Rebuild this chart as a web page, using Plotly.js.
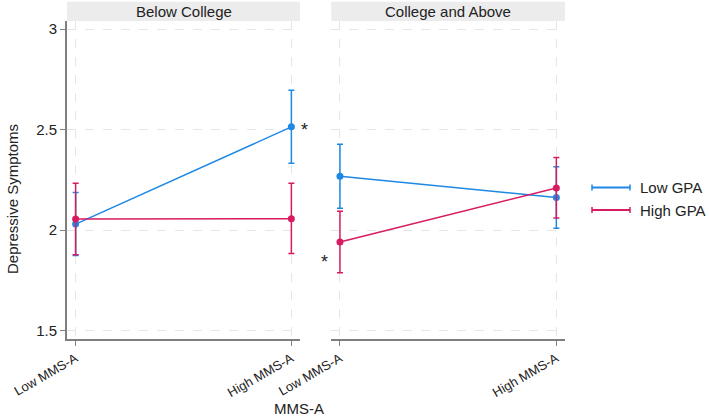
<!DOCTYPE html>
<html><head><meta charset="utf-8">
<script src="https://cdn.plot.ly/plotly-3.0.1.min.js"></script>
<style>html,body{margin:0;padding:0;background:#fff}#chart{width:709px;height:418px}</style>
</head><body><div id="chart"></div>
<script>
const mmsLevels = ['Low MMS-A', 'High MMS-A'];
const panels = ['Below College', 'College and Above'];
const seriesNames = ['Low GPA', 'High GPA'];
// Below College
const belowLowGPA = [2.03, 2.514];
const belowLowGPAUpper = [2.187, 2.696];
const belowLowGPALower = [1.874, 2.333];
const belowHighGPA = [2.055, 2.057];
const belowHighGPAUpper = [2.233, 2.233];
const belowHighGPALower = [1.878, 1.884];
// College and Above
const collegeLowGPA = [2.268, 2.162];
const collegeLowGPAUpper = [2.428, 2.315];
const collegeLowGPALower = [2.109, 2.009];
const collegeHighGPA = [1.941, 2.210];
const collegeHighGPAUpper = [2.094, 2.362];
const collegeHighGPALower = [1.788, 2.060];
const yTicks = [1.5, 2, 2.5, 3];
const yTickText = ['1.5', '2', '2.5', '3'];

const colors = ['#1E88E5', '#D81B60'];
const FONT = 'Liberation Sans, Arial, sans-serif';

function tr(vals, up, lo, color, xa, ya, name) {
  return {
    x: mmsLevels, y: vals, xaxis: xa, yaxis: ya, name: name, showlegend: false,
    type: 'scatter', mode: 'lines+markers',
    line: {color: color, width: 1.5},
    marker: {color: color, size: 7},
    error_y: {type: 'data', symmetric: false,
      array: up.map((u, i) => u - vals[i]),
      arrayminus: lo.map((l, i) => vals[i] - l),
      color: color, thickness: 1.5, width: 3}
  };
}
const data = [
  tr(belowLowGPA, belowLowGPAUpper, belowLowGPALower, colors[0], 'x', 'y', seriesNames[0]),
  tr(belowHighGPA, belowHighGPAUpper, belowHighGPALower, colors[1], 'x', 'y', seriesNames[1]),
  tr(collegeLowGPA, collegeLowGPAUpper, collegeLowGPALower, colors[0], 'x2', 'y2', seriesNames[0]),
  tr(collegeHighGPA, collegeHighGPAUpper, collegeHighGPALower, colors[1], 'x2', 'y2', seriesNames[1])
];

const W = 709, H = 418, L = 67, R = 144, T = 21, B = 79;
const pw = W - L - R, ph = H - T - B;
const px = v => (v - L) / pw;
const py = v => 1 - (v - T) / ph;
const txt = {family: FONT, size: 15, color: '#222'};

const xCommon = {
  type: 'category', range: [-0.04, 1.04], showgrid: true, gridcolor: '#e6e6e6', griddash: 'dash', gridwidth: 1,
  showline: true, linecolor: '#7f7f7f', linewidth: 2, ticks: 'outside', ticklen: 5, tickcolor: '#7f7f7f', tickwidth: 1,
  tickangle: -30, tickfont: {family: FONT, size: 13, color: '#222'}, zeroline: false, fixedrange: true
};
const yCommon = {
  range: [1.458, 3.041], tickvals: yTicks, ticktext: yTickText, showgrid: true, gridcolor: '#e6e6e6', griddash: 'dash', gridwidth: 1,
  zeroline: false, fixedrange: true
};

// legend (drawn as shapes + text)
const legendRows = [187.5, 210];
const legendShapes = [];
const legendAnn = [];
seriesNames.forEach((n, i) => {
  const yy = py(legendRows[i]);
  const c = colors[i];
  legendShapes.push({type: 'line', xref: 'paper', yref: 'paper', x0: px(592), x1: px(630), y0: yy, y1: yy, line: {color: c, width: 2}});
  [592, 630].forEach(xx => legendShapes.push({type: 'line', xref: 'paper', yref: 'paper', x0: px(xx), x1: px(xx), y0: py(legendRows[i] - 3), y1: py(legendRows[i] + 3), line: {color: c, width: 1.5}}));
  legendAnn.push({text: n, xref: 'paper', yref: 'paper', x: px(638), y: yy, xanchor: 'left', yanchor: 'middle', showarrow: false, font: {family: FONT, size: 15, color: '#222'}});
});

const layout = {
  width: W, height: H, margin: {l: L, r: R, t: T, b: B}, paper_bgcolor: '#fff', plot_bgcolor: '#fff',
  font: {family: FONT, color: '#222'},
  xaxis: Object.assign({}, xCommon, {domain: [0, px(300)], anchor: 'y'}),
  xaxis2: Object.assign({}, xCommon, {domain: [px(331.3), 1], anchor: 'y2'}),
  yaxis: Object.assign({}, yCommon, {anchor: 'x', showline: true, linecolor: '#7f7f7f', linewidth: 2, ticks: 'outside', ticklen: 5, tickcolor: '#7f7f7f', tickfont: {family: FONT, size: 15, color: '#222'}}),
  yaxis2: Object.assign({}, yCommon, {anchor: 'x2', showticklabels: false, showline: false, ticks: ''}),
  showlegend: false,
  shapes: [
    {type: 'rect', xref: 'paper', yref: 'paper', x0: 0, x1: px(300), y0: 1, y1: py(1.7), fillcolor: '#ececec', line: {width: 0}, layer: 'below'},
    {type: 'rect', xref: 'paper', yref: 'paper', x0: px(331.3), x1: 1, y0: 1, y1: py(1.7), fillcolor: '#ececec', line: {width: 0}, layer: 'below'}
  ].concat(legendShapes),
  annotations: [
    {text: panels[0], xref: 'paper', yref: 'paper', x: px(300) / 2, y: py(11.8), xanchor: 'center', yanchor: 'middle', showarrow: false, font: txt},
    {text: panels[1], xref: 'paper', yref: 'paper', x: (px(331.3) + 1) / 2, y: py(11.8), xanchor: 'center', yanchor: 'middle', showarrow: false, font: txt},
    {text: 'Depressive Symptoms', xref: 'paper', yref: 'paper', x: px(12), y: py(199), xanchor: 'center', yanchor: 'middle', textangle: -90, showarrow: false, font: txt},
    {text: 'MMS-A', xref: 'paper', yref: 'paper', x: px(299), y: py(408), xanchor: 'center', yanchor: 'middle', showarrow: false, font: txt},
    {text: '*', xref: 'x', yref: 'y', x: mmsLevels[1], y: belowLowGPA[1], xanchor: 'center', yanchor: 'middle', xshift: 13, yshift: -3, showarrow: false, font: {family: FONT, size: 18, color: '#222'}},
    {text: '*', xref: 'x2', yref: 'y2', x: mmsLevels[0], y: collegeHighGPA[0], xanchor: 'center', yanchor: 'middle', xshift: -15, yshift: -20, showarrow: false, font: {family: FONT, size: 18, color: '#222'}}
  ].concat(legendAnn)
};
Plotly.newPlot('chart', data, layout, {displayModeBar: false, staticPlot: true});
</script></body></html>
